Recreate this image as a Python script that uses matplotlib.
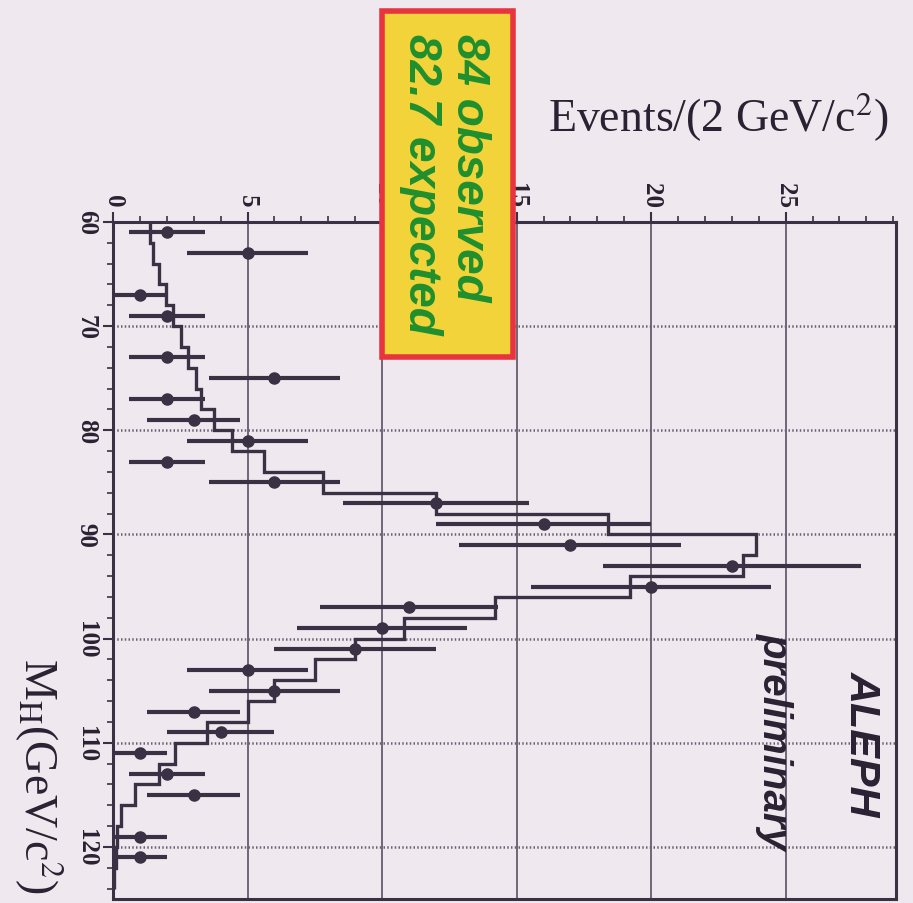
import numpy as np
import matplotlib
matplotlib.use("Agg")
import matplotlib.pyplot as plt
from matplotlib.patches import Rectangle
from matplotlib.ticker import MultipleLocator

# Higgs mass bins (2 GeV/c^2), 60 - 124
mass_edges = np.arange(60, 126, 2)
mass_centers = mass_edges[:-1] + 1

# Observed events per bin
observed = [2, 5, 0, 1, 2, 0, 2, 6, 2, 3, 5, 2, 6, 12, 16, 17,
            23, 20, 11, 10, 9, 5, 6, 3, 4, 1, 2, 3, 0, 1, 1, 0]

# Expected events per bin (simulation)
expected = [1.37, 1.49, 1.71, 1.98, 2.23, 2.53, 2.78, 3.09, 3.27, 3.76,
            4.44, 5.6, 7.8, 12.0, 18.4, 23.9, 23.4, 19.2, 14.2, 10.8,
            9.0, 7.5, 6.0, 5.0, 3.5, 2.3, 1.7, 0.8, 0.3, 0.15, 0.1, 0.05]

x_ticks = [0, 5, 10, 15, 20, 25]
y_ticks = [60, 70, 80, 90, 100, 110, 120]

bg = "#efe9ef"
ink = "#3a3244"

W, H = 913, 904
fig = plt.figure(figsize=(W / 100, H / 100), dpi=100, facecolor=bg)
plt.rcParams["mathtext.fontset"] = "stix"

def fx(px):
    return px / W

def fy(py):
    return 1 - py / H

ax = fig.add_axes([fx(113), fy(900), fx(896) - fx(113), fy(223) - fy(900)])
ax.set_facecolor(bg)
ax.set_xlim(0, 29.1)
ax.set_ylim(125, 60)

# grid: solid verticals, dotted horizontals
for xv in x_ticks[1:]:
    ax.axvline(xv, color="#5a5064", lw=1.2, zorder=1)
for yv in y_ticks[1:]:
    ax.axhline(yv, color="#6a6074", lw=1.8, ls=(0, (0.6, 0.9)), zorder=1)

# expected histogram
ax.stairs(expected, mass_edges, orientation="horizontal", color=ink,
          lw=2.4, baseline=None, zorder=3)

# observed data with Poisson errors
obs = np.array(observed, dtype=float)
sel = obs > 0
ax.errorbar(obs[sel], mass_centers[sel], xerr=np.sqrt(obs[sel]), fmt="o",
            color=ink, ecolor=ink, elinewidth=3.0, capsize=0, markersize=8,
            zorder=4)

# axes styling
for s in ax.spines.values():
    s.set_color(ink)
    s.set_linewidth(2.2)
ax.xaxis.tick_top()
ax.set_xticks(x_ticks)
ax.xaxis.set_minor_locator(MultipleLocator(1))
ax.set_yticks(y_ticks)
ax.yaxis.set_minor_locator(MultipleLocator(2))
ax.tick_params(axis="both", which="major", direction="out", length=7,
               width=1.5, color=ink, pad=4)
ax.tick_params(axis="both", which="minor", direction="out", length=4,
               width=1.2, color=ink)
ax.tick_params(bottom=False, right=False, which="both")
for lab in ax.get_xticklabels() + ax.get_yticklabels():
    lab.set_rotation(-90)
    lab.set_fontfamily("Liberation Serif")
    lab.set_fontsize(18)
    lab.set_fontweight("bold")
    lab.set_color("#2a2232")
for lab in ax.get_xticklabels():
    lab.set_va("bottom")
    lab.set_ha("center")
for lab in ax.get_yticklabels():
    lab.set_va("center")
    lab.set_ha("right")

# axis titles
fig.text(fx(548), fy(118), "Events/(2 GeV/c$^2$)", fontfamily="Liberation Serif",
         fontsize=33, color="#2a2232", ha="left", va="center")
fig.text(fx(38), fy(776), "M$_\\mathrm{H}$(GeV/c$^2$)", fontfamily="Liberation Serif",
         fontsize=33, color="#2a2232", ha="center", va="center", rotation=-90)

# experiment labels
ax.text(fx(862), fy(744), "ALEPH", transform=fig.transFigure, rotation=-90,
        fontfamily="Liberation Sans", fontsize=31, fontweight="bold",
        fontstyle="italic", color="#2a2232", ha="center", va="center")
ax.text(fx(775), fy(741), "preliminary", transform=fig.transFigure, rotation=-90,
        fontfamily="Liberation Sans", fontsize=29, fontweight="bold",
        fontstyle="italic", color="#2a2232", ha="center", va="center")

# summary box
box = Rectangle((fx(382), fy(358)), fx(513) - fx(382), fy(12) - fy(358),
                transform=fig.transFigure, facecolor="#f2d33a",
                edgecolor="#e8343e", lw=4, zorder=10)
fig.patches.append(box)
fig.text(fx(469), fy(34), "84 observed", rotation=-90, fontfamily="Liberation Sans",
         fontsize=33, fontweight="bold", fontstyle="italic", color="#1f8f2e",
         ha="center", va="top", zorder=11)
fig.text(fx(421), fy(34), "82.7 expected", rotation=-90, fontfamily="Liberation Sans",
         fontsize=33, fontweight="bold", fontstyle="italic", color="#1f8f2e",
         ha="center", va="top", zorder=11)

fig.savefig("out.png", dpi=100, facecolor=bg)
